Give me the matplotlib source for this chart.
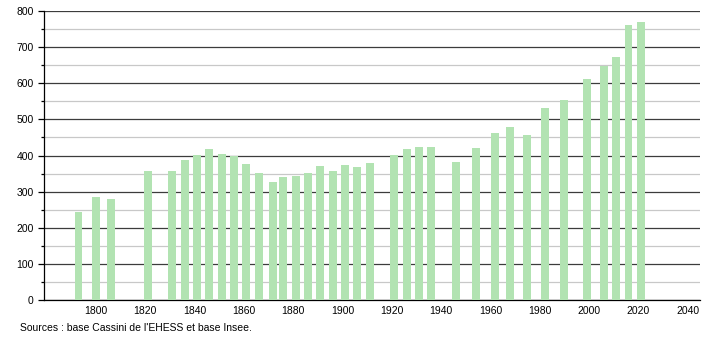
import matplotlib.pyplot as plt
from matplotlib.ticker import MultipleLocator

plt.rcParams['font.family'] = ['Liberation Sans', 'DejaVu Sans']

# Census years and population
years = [1793, 1800, 1806, 1821, 1831, 1836, 1841, 1846, 1851, 1856,
         1861, 1866, 1872, 1876, 1881, 1886, 1891, 1896, 1901, 1906,
         1911, 1921, 1926, 1931, 1936, 1946, 1954, 1962, 1968, 1975,
         1982, 1990, 1999, 2006, 2011, 2016, 2021]
population = [244, 286, 279, 356, 356, 387, 401, 417, 404, 400,
              376, 351, 326, 340, 344, 351, 371, 357, 374, 367,
              379, 401, 417, 423, 423, 382, 421, 462, 478, 456,
              532, 555, 613, 648, 674, 762, 770]
x_ticks = list(range(1800, 2041, 20))
source_text = "Sources : base Cassini de l'EHESS et base Insee."

fig = plt.figure(figsize=(7.1, 3.4), dpi=100)
ax = fig.add_axes([0.062, 0.1176, 0.924, 0.85])

ax.bar(years, population, width=3.2, color='#b2e3b2', zorder=3)

ax.set_xlim(1779, 2045)
ax.set_ylim(0, 800)
ax.set_xticks(x_ticks)
ax.yaxis.set_major_locator(MultipleLocator(100))
ax.yaxis.set_minor_locator(MultipleLocator(50))

ax.grid(axis='y', which='major', color='#3c3c3c', linewidth=0.9, zorder=1)
ax.grid(axis='y', which='minor', color='#c8c8c8', linewidth=0.9, zorder=1)

for side in ['top', 'right']:
    ax.spines[side].set_visible(False)
ax.spines['left'].set_linewidth(0.9)
ax.spines['bottom'].set_linewidth(0.9)

ax.tick_params(axis='x', length=0, labelsize=7.5, pad=4)
ax.tick_params(axis='y', which='major', length=4, width=0.9, labelsize=7.5)
ax.tick_params(axis='y', which='minor', length=2, width=0.9)

fig.text(0.028, 0.02, source_text, fontsize=7.5, ha='left', va='bottom')

fig.savefig('out.png', dpi=100)
